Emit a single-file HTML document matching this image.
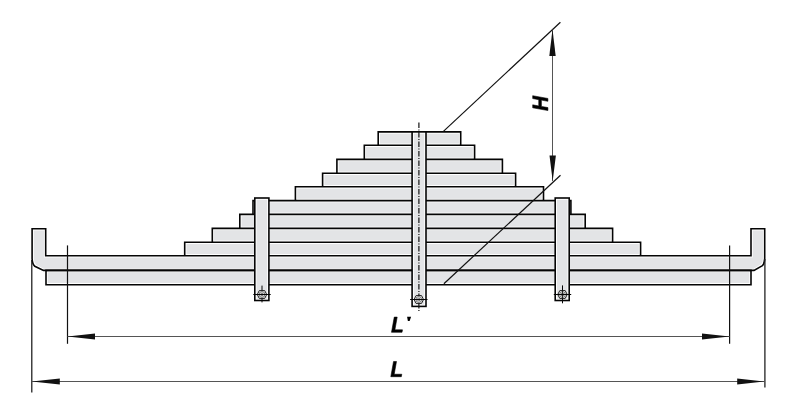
<!DOCTYPE html>
<html><head><meta charset="utf-8"><title>Leaf spring</title>
<style>html,body{margin:0;padding:0;background:#fff;font-family:"Liberation Sans",sans-serif;} svg{display:block;}</style></head>
<body><svg width="800" height="409" viewBox="0 0 800 409">
<rect width="800" height="409" fill="#fff"/>
<rect x="46.0" y="270.4" width="705.00" height="14.30" fill="#fff"/>
<rect x="47.75" y="272.15" width="701.50" height="10.80" fill="#e3e4e6"/>
<path d="M45.7,255.8 V228.8 H32.1 V258.8 Q32.4,264.3 34.8,266.3 L43.5,270.4 H754 L762.4,265.6 Q764.4000000000001,263.8 764.7,258.6 V228.8 H751.0 V255.8 Z" fill="#fff"/>
<path d="M43.95,257.55 V230.55 H33.85 V258.8 Q34.050000000000004,263.2 36.2,264.9 L43.9,268.65 H753.6 L761.0,264.3 Q762.75,262.9 762.95,258.6 V230.55 H752.75 V257.55 Z" fill="#e3e4e6"/>
<rect x="184.7" y="242.3" width="455.90" height="13.50" fill="#fff"/>
<rect x="186.45" y="244.05" width="452.40" height="10.00" fill="#e3e4e6"/>
<rect x="212.3" y="228.4" width="400.30" height="13.90" fill="#fff"/>
<rect x="214.05" y="230.15" width="396.80" height="10.40" fill="#e3e4e6"/>
<rect x="239.8" y="214.4" width="345.40" height="14.00" fill="#fff"/>
<rect x="241.55" y="216.15" width="341.90" height="10.50" fill="#e3e4e6"/>
<rect x="253.0" y="200.6" width="317.90" height="13.80" fill="#fff"/>
<rect x="254.75" y="202.35" width="314.40" height="10.30" fill="#e3e4e6"/>
<rect x="295.4" y="186.8" width="248.10" height="13.80" fill="#fff"/>
<rect x="297.15" y="188.55" width="244.60" height="10.30" fill="#e3e4e6"/>
<rect x="322.6" y="173.3" width="193.00" height="13.50" fill="#fff"/>
<rect x="324.35" y="175.05" width="189.50" height="10.00" fill="#e3e4e6"/>
<rect x="336.9" y="159.4" width="165.50" height="13.90" fill="#fff"/>
<rect x="338.65" y="161.15" width="162.00" height="10.40" fill="#e3e4e6"/>
<rect x="364.3" y="145.3" width="110.30" height="14.10" fill="#fff"/>
<rect x="366.05" y="147.05" width="106.80" height="10.60" fill="#e3e4e6"/>
<rect x="378.2" y="131.9" width="82.50" height="13.40" fill="#fff"/>
<rect x="379.95" y="133.65" width="79.00" height="9.90" fill="#e3e4e6"/>
<path d="M46.0,284.7 V270.4 H751.0 V284.7 Z" fill="none" stroke="#050505" stroke-width="1.6"/>
<path d="M45.7,255.8 V228.8 H32.1 V258.8 Q32.4,264.3 34.8,266.3 L43.5,270.4 H754 L762.4,265.6 Q764.4000000000001,263.8 764.7,258.6 V228.8 H751.0 V255.8 Z" fill="none" stroke="#050505" stroke-width="1.6" stroke-linejoin="miter"/>
<path d="M184.7,255.8 V242.3 H640.6 V255.8" fill="none" stroke="#050505" stroke-width="1.6"/>
<path d="M212.3,242.3 V228.4 H612.6 V242.3" fill="none" stroke="#050505" stroke-width="1.6"/>
<path d="M239.8,228.4 V214.4 H585.2 V228.4" fill="none" stroke="#050505" stroke-width="1.6"/>
<path d="M253.0,214.4 V200.6 H570.9 V214.4" fill="none" stroke="#050505" stroke-width="1.6"/>
<path d="M295.4,200.6 V186.8 H543.5 V200.6" fill="none" stroke="#050505" stroke-width="1.6"/>
<path d="M322.6,186.8 V173.3 H515.6 V186.8" fill="none" stroke="#050505" stroke-width="1.6"/>
<path d="M336.9,173.3 V159.4 H502.4 V173.3" fill="none" stroke="#050505" stroke-width="1.6"/>
<path d="M364.3,159.4 V145.3 H474.6 V159.4" fill="none" stroke="#050505" stroke-width="1.6"/>
<path d="M378.2,145.3 V131.9 H460.7 V145.3" fill="none" stroke="#050505" stroke-width="1.6"/>
<rect x="254.8" y="198.0" width="14.10" height="102.50" fill="#fff"/>
<rect x="256.55" y="199.75" width="10.60" height="99.00" fill="#e3e4e6"/>
<rect x="254.8" y="198.0" width="14.10" height="102.50" fill="none" stroke="#050505" stroke-width="1.6"/>
<rect x="555.2" y="198.0" width="14.00" height="102.50" fill="#fff"/>
<rect x="556.95" y="199.75" width="10.50" height="99.00" fill="#e3e4e6"/>
<rect x="555.2" y="198.0" width="14.00" height="102.50" fill="none" stroke="#050505" stroke-width="1.6"/>
<rect x="412.1" y="131.9" width="13.90" height="174.50" fill="#fff"/>
<rect x="413.85" y="133.65" width="10.40" height="171.00" fill="#e3e4e6"/>
<rect x="412.1" y="131.9" width="13.90" height="174.50" fill="none" stroke="#050505" stroke-width="1.6"/>
<line x1="418.9" y1="122.5" x2="418.9" y2="312.5" stroke="#111" stroke-width="1.2" stroke-dasharray="5.5 1.5 1 1.5"/>
<line x1="262.0" y1="285.6" x2="262.0" y2="302.4" stroke="#050505" stroke-width="1"/>
<polygon points="266.70,294.50 264.70,298.40 259.30,298.40 257.30,294.50 259.30,290.60 264.70,290.60" fill="#fff" stroke="#050505" stroke-width="0.9"/>
<circle cx="262.0" cy="294.5" r="2.9" fill="none" stroke="#050505" stroke-width="0.55"/>
<circle cx="262.0" cy="294.5" r="1.4" fill="none" stroke="#050505" stroke-width="0.55"/>
<line x1="253.3" y1="294.5" x2="270.7" y2="294.5" stroke="#050505" stroke-width="1"/>
<line x1="562.5" y1="285.4" x2="562.5" y2="303.3" stroke="#050505" stroke-width="1"/>
<polygon points="567.20,294.50 565.20,298.40 559.80,298.40 557.80,294.50 559.80,290.60 565.20,290.60" fill="#fff" stroke="#050505" stroke-width="0.9"/>
<circle cx="562.5" cy="294.5" r="2.9" fill="none" stroke="#050505" stroke-width="0.55"/>
<circle cx="562.5" cy="294.5" r="1.4" fill="none" stroke="#050505" stroke-width="0.55"/>
<line x1="553.8" y1="294.5" x2="571.2" y2="294.5" stroke="#050505" stroke-width="1"/>
<line x1="562.5" y1="290.5" x2="562.5" y2="298.5" stroke="#050505" stroke-width="0.8"/>
<polygon points="423.50,299.50 421.50,303.40 416.10,303.40 414.10,299.50 416.10,295.60 421.50,295.60" fill="#fff" stroke="#050505" stroke-width="0.9"/>
<circle cx="418.8" cy="299.5" r="2.9" fill="none" stroke="#050505" stroke-width="0.55"/>
<circle cx="418.8" cy="299.5" r="1.4" fill="none" stroke="#050505" stroke-width="0.55"/>
<line x1="410.1" y1="299.5" x2="427.5" y2="299.5" stroke="#050505" stroke-width="1"/>
<line x1="67.5" y1="245.4" x2="67.5" y2="343.8" stroke="#111" stroke-width="1.2"/>
<line x1="729.6" y1="245.6" x2="729.6" y2="343.8" stroke="#111" stroke-width="1.2"/>
<line x1="31.8" y1="260" x2="31.8" y2="392.4" stroke="#111" stroke-width="1.2"/>
<line x1="764.9" y1="259" x2="764.9" y2="387.4" stroke="#222" stroke-width="1.3"/>
<line x1="67.5" y1="336.5" x2="729.6" y2="336.5" stroke="#555" stroke-width="1"/>
<line x1="31.8" y1="381.5" x2="764.9" y2="381.5" stroke="#555" stroke-width="1"/>
<polygon points="67.5,336.4 95.0,333.4 95.0,339.4" fill="#111"/>
<polygon points="729.6,336.4 702.0,333.4 702.0,339.4" fill="#111"/>
<polygon points="31.8,381.5 59.8,378.5 59.8,384.5" fill="#111"/>
<polygon points="764.9,381.5 737.2,378.5 737.2,384.5" fill="#111"/>
<line x1="443.4" y1="131.4" x2="560.4" y2="22.3" stroke="#111" stroke-width="1.2"/>
<line x1="443.9" y1="283.7" x2="560.5" y2="175.3" stroke="#111" stroke-width="1.2"/>
<line x1="552.5" y1="29.6" x2="552.5" y2="181.1" stroke="#555" stroke-width="1"/>
<polygon points="552.5,29.6 549.3,56.1 555.7,56.1" fill="#111"/>
<polygon points="552.7,181.1 549.5,155.5 555.9000000000001,155.5" fill="#111"/>
<path d="M36 0 309 1409H604L375 228H1131L1086 0Z" transform="matrix(0.010033,0,0,-0.010788,391.14,332.3)" fill="#000" stroke="#000" stroke-width="55" stroke-linejoin="round"/>
<polygon points="407.1,316.7 411.1,316.7 409.6,321 407.9,321" fill="#000"/>
<path d="M36 0 309 1409H604L375 228H1131L1086 0Z" transform="matrix(0.010033,0,0,-0.010788,390.44,376.7)" fill="#000" stroke="#000" stroke-width="55" stroke-linejoin="round"/>
<path d="M956 0 1074 604H448L330 0H36L309 1409H604L495 848H1121L1230 1409H1514L1240 0Z" transform="matrix(0,-0.010033,-0.010788,0,547.9,110.9)" fill="#000" stroke="#000" stroke-width="55" stroke-linejoin="round"/>
</svg></body></html>
